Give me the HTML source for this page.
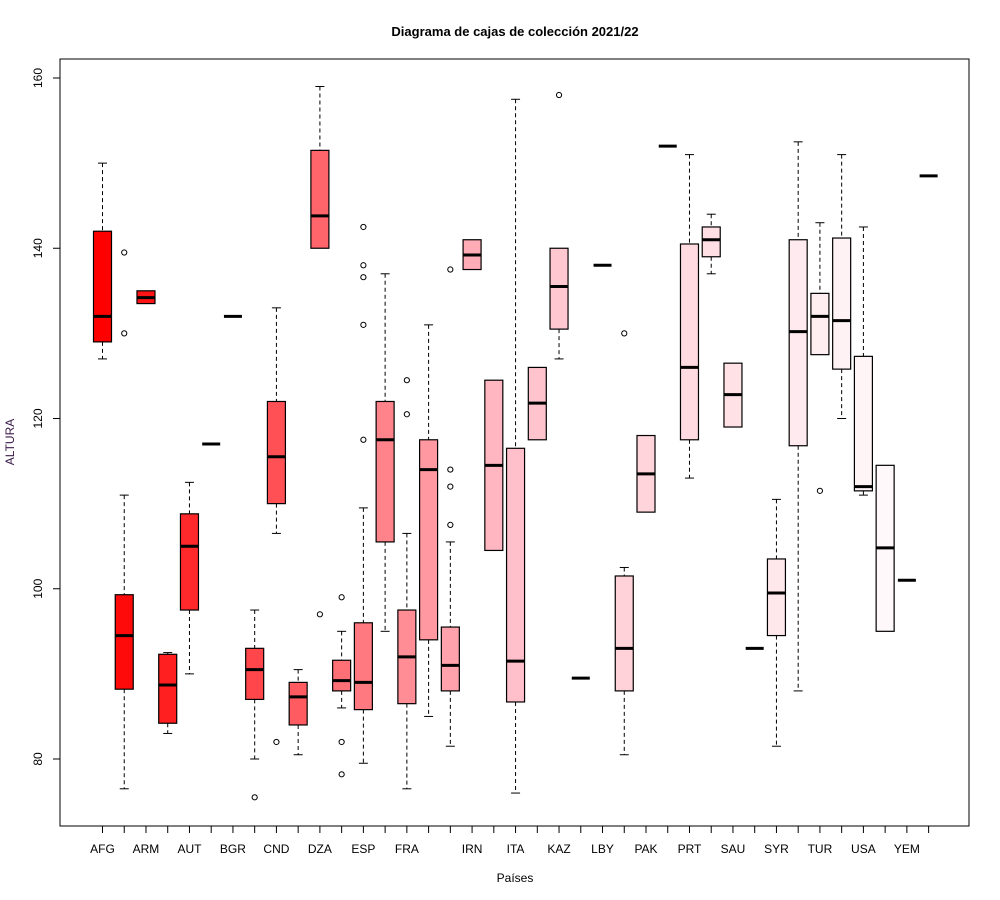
<!DOCTYPE html>
<html><head><meta charset="utf-8"><style>
html,body{margin:0;padding:0;background:#fff}
svg{display:block;font-family:"Liberation Sans",Arial,sans-serif}
</style></head><body>
<svg id="chart" width="1000" height="900" viewBox="0 0 1000 900" xmlns="http://www.w3.org/2000/svg">
<rect x="0" y="0" width="1000" height="900" fill="#fff"/>
<text x="515" y="36" text-anchor="middle" font-size="13" font-weight="bold">Diagrama de cajas de colección 2021/22</text>
<rect x="60" y="59" width="909" height="767" fill="none" stroke="#000" stroke-width="1"/>
<text x="515" y="882" text-anchor="middle" font-size="12">Países</text>
<text transform="translate(14,442) rotate(-90)" text-anchor="middle" font-size="12" fill="#3a1a4a">ALTURA</text>
<g id="yaxis"></g>
<g id="xaxis"></g>
<g id="boxes"></g>
</svg>
<script>
const q1s  = [129,88.2,133.5,84.2,97.5,117,132,87,110,84,140,88,85.8,105.5,86.5,94,88,137.5,104.5,86.7,117.5,130.5,89.5,138,88,109,152,117.5,139,119,93,94.5,116.8,127.5,125.8,111.5,95,101,148.5];
const meds = [132,94.5,134.2,88.7,105,117,132,90.5,115.5,87.3,143.8,89.2,89,117.5,92,114,91,139.2,114.5,91.5,121.8,135.5,89.5,138,93,113.5,152,126,141,122.8,93,99.5,130.2,132,131.5,112,104.8,101,148.5];
const q3s  = [142,99.3,135,92.3,108.8,117,132,93,122,89,151.5,91.6,96,122,97.5,117.5,95.5,141,124.5,116.5,126,140,89.5,138,101.5,118,152,140.5,142.5,126.5,93,103.5,141,134.7,141.2,127.3,114.5,101,148.5];
const wlos = [127,76.5,133.5,83,90,117,132,80,106.5,80.5,140,86,79.5,95,76.5,85,81.5,137.5,104.5,76,117.5,127,89.5,138,80.5,109,152,113,137,119,93,81.5,88,127.5,120,111,95,101,148.5];
const whis = [150,111,135,92.5,112.5,117,132,97.5,133,90.5,159,95,109.5,137,106.5,131,105.5,141,124.5,157.5,126,140,89.5,138,102.5,118,152,151,144,126.5,93,110.5,152.5,143,151,142.5,114.5,101,148.5];
const outliers = [[],[139.5,130],[],[],[],[],[],[75.5],[82],[],[97],[99,82,78.2],[142.5,138,136.6,131,117.5],[],[124.5,120.5],[],[137.5,114,112,107.5],[],[],[],[],[158],[],[],[130],[],[],[],[],[],[],[],[],[111.5],[],[],[],[],[]];
const xLabels = ["AFG","","ARM","","AUT","","BGR","","CND","","DZA","","ESP","","FRA","","","IRN","","ITA","","KAZ","","LBY","","PAK","","PRT","","SAU","","SYR","","TUR","","USA","","YEM",""];
const yTicks = [80,100,120,140,160];

const NS="http://www.w3.org/2000/svg";
function xs(i){return 102.5 + i*21.74;}
function ys(v){return 759 - (v-80)*8.5125;}
function mk(tag,attrs,parent){const e=document.createElementNS(NS,tag);for(const k in attrs)e.setAttribute(k,attrs[k]);parent.appendChild(e);return e;}
function mix(a,b,t){return Math.round(a+(b-a)*t);}
function color(i,n){
  const t=i/(n-1);let r,g,b;
  if(t<=0.5){const s=t/0.5;r=255;g=mix(0,192,s);b=mix(0,203,s);}
  else{const s=(t-0.5)/0.5;r=255;g=mix(192,255,s);b=mix(203,255,s);}
  return `rgb(${r},${g},${b})`;
}
const yg=document.getElementById('yaxis');
mk('line',{x1:60,x2:60,y1:ys(yTicks[0]),y2:ys(yTicks[yTicks.length-1]),stroke:'#000'},yg);
yTicks.forEach(v=>{
  const l=mk('line',{x1:53,x2:60,y1:ys(v),y2:ys(v),stroke:'#000'},yg);
  
  
  const t=mk('text',{transform:`translate(42,${ys(v)}) rotate(-90)`,'text-anchor':'middle','font-size':'12'},yg);
  
  
  t.textContent=v;
});
const xg=document.getElementById('xaxis');
const n=meds.length;
mk('line',{x1:xs(0),x2:xs(n-1),y1:826,y2:826,stroke:'#000'},xg);
for(let i=0;i<n;i++){
  const l=mk('line',{x1:xs(i),x2:xs(i),y1:826,y2:833,stroke:'#000'},xg);
  
  
  if(xLabels[i]){
    const t=mk('text',{x:xs(i),y:853,'text-anchor':'middle','font-size':'12'},xg);
    
    
    t.textContent=xLabels[i];
  }
}
const bg=document.getElementById('boxes');
for(let i=0;i<n;i++){
  const g=mk('g',{},bg);
  
  
  const x=xs(i),hw=9,cw=4.5;
  if(whis[i]>q3s[i]){
    mk('line',{x1:x,x2:x,y1:ys(whis[i]),y2:ys(q3s[i]),stroke:'#000','stroke-dasharray':'4,3'},g);
    mk('line',{x1:x-cw,x2:x+cw,y1:ys(whis[i]),y2:ys(whis[i]),stroke:'#000'},g);
  }
  if(wlos[i]<q1s[i]){
    mk('line',{x1:x,x2:x,y1:ys(q1s[i]),y2:ys(wlos[i]),stroke:'#000','stroke-dasharray':'4,3'},g);
    mk('line',{x1:x-cw,x2:x+cw,y1:ys(wlos[i]),y2:ys(wlos[i]),stroke:'#000'},g);
  }
  if(q3s[i]>q1s[i]){
    mk('rect',{x:x-hw,y:ys(q3s[i]),width:2*hw,height:ys(q1s[i])-ys(q3s[i]),fill:color(i,n),stroke:'#000','stroke-width':1.2},g);
  }
  mk('line',{x1:x-hw,x2:x+hw,y1:ys(meds[i]),y2:ys(meds[i]),stroke:'#000','stroke-width':3},g);
  outliers[i].forEach(v=>{
    const c=mk('circle',{cx:x,cy:ys(v),r:2.6,fill:'none',stroke:'#000','stroke-width':1},g);
    
    
  });
}
</script>
</body></html>
